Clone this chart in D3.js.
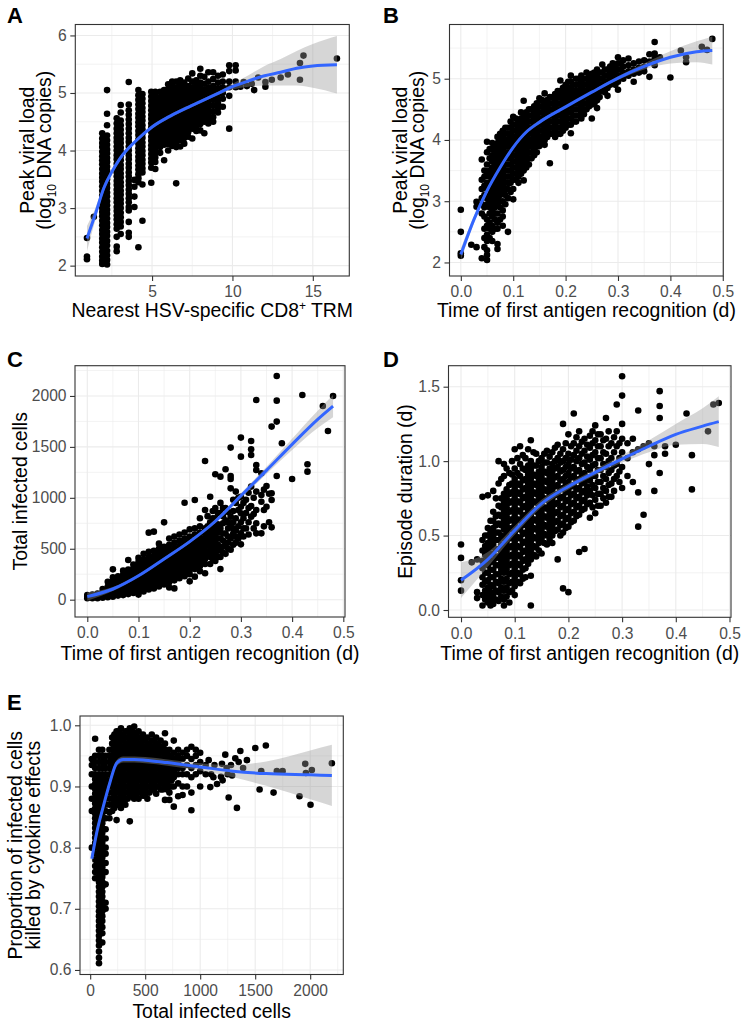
<!DOCTYPE html>
<html><head><meta charset="utf-8">
<script src="https://cdn.jsdelivr.net/npm/d3@7"></script>
<style>
body{margin:0;background:#fff;}
svg text{font-family:"Liberation Sans",Arial,Helvetica,sans-serif;}
</style></head><body>
<svg id="chart" width="747" height="1027"></svg>
<script>
// ---------- Panel A: nearest TRM distance vs peak viral load ----------
// each entry: [x, y1, y2, ...]
const aCols = [
[0.95,2.48,2.16,2.11],[1.38,2.85],
[1.9,4.3,4.21,4.13,4.06,3.98,3.9,3.83,3.76,3.68,3.6,3.53,3.46,3.38,3.3,3.22,3.15,3.08,3.0,2.93,2.86,2.78,2.7,2.62,2.55,2.47,2.4,2.32,2.24,2.16,2.09,2.03],
[2.2,5.05,4.64,4.44,4.26,4.18,4.1,4.02,3.95,3.87,3.8,3.72,3.65,3.57,3.5,3.42,3.35,3.27,3.2,3.12,3.05,2.97,2.9,2.82,2.74,2.67,2.59,2.52,2.43,2.35,2.26,2.18,2.1,2.02],
[2.8,4.56,4.47,4.38,4.3,4.22,4.15,4.07,4.0,3.92,3.85,3.77,3.7,3.62,3.55,3.47,3.4,3.32,3.25,3.17,3.1,3.02,2.95,2.87,2.8,2.72,2.64,2.5,2.33,2.25],
[3.05,4.79,4.66,4.52,4.44,4.36,4.28,4.2,4.13,4.05,3.98,3.9,3.83,3.75,3.68,3.6,3.53,3.45,3.38,3.3,3.23,3.15,3.08,3.0,2.92,2.84,2.76,2.68,2.55],
[3.55,5.19,4.8,4.7,4.62,4.54,4.46,4.38,4.3,4.22,4.15,4.07,4.0,3.92,3.85,3.77,3.7,3.62,3.55,3.47,3.4,3.32,3.25,3.17,3.1,3.02,2.96,2.76,2.57,2.5],
[3.9,3.49,3.37,3.2,3.02],
[4.15,5.05,4.96,4.88,4.8,4.72,4.64,4.57,4.49,4.42,4.34,4.27,4.19,4.12,4.04,3.97,3.89,3.82,3.74,3.67,3.59,3.52,3.45,2.32],
[4.4,4.98,4.9,4.82,4.74,4.67,4.59,4.52,4.44,4.37,4.29,4.22,4.14,4.07,3.99,3.92,3.84,3.77,3.69,3.62,3.41,2.78],
[4.95,5.02,4.94,4.86,4.78,4.7,4.62,4.55,4.47,4.4,4.32,4.24,4.17,4.09,4.02,3.94,3.86,3.79,3.7,3.44],
[5.2,5.02,4.95,4.87,4.79,4.71,4.63,4.56,4.48,4.41,4.33,4.26,4.18,4.11,4.03,3.96,3.88,3.8,3.68],
[5.5,5.02,4.93,4.85,4.77,4.69,4.61,4.53,4.45,4.38,4.3,4.22,4.14,4.06,3.96],
[5.75,5.05,4.97,4.89,4.81,4.73,4.65,4.57,4.49,4.42,4.34,4.26,4.18,4.1,3.83],
[6.0,5.15,5.07,4.99,4.91,4.83,4.75,4.67,4.59,4.51,4.43,4.35,4.27,4.19,4.11,4.0],
[6.25,5.2,5.12,5.04,4.96,4.88,4.8,4.72,4.64,4.56,4.48,4.4,4.32,4.24,4.16,4.08],
[6.5,5.2,5.1,5.02,4.94,4.86,4.78,4.7,4.62,4.54,4.46,4.38,4.3,4.22,4.14,4.06,3.43],
[6.75,5.22,5.14,5.06,4.98,4.9,4.82,4.74,4.66,4.58,4.5,4.42,4.34,4.26,4.18,4.07],
[7.0,5.18,5.1,5.02,4.94,4.86,4.78,4.7,4.62,4.54,4.46,4.38,4.3,4.22,4.12],
[7.25,5.25,5.12,5.04,4.96,4.88,4.8,4.72,4.64,4.56,4.48,4.4,4.32,4.24],
[7.5,5.34,5.2,5.1,5.02,4.94,4.86,4.78,4.7,4.62,4.54,4.46,4.38,4.21],
[7.75,5.22,5.14,5.06,4.98,4.9,4.82,4.74,4.66,4.58,4.5,4.42,4.34],
[8.0,5.42,5.3,5.18,5.1,5.02,4.94,4.86,4.78,4.7,4.62,4.54,4.46,4.35],
[8.25,5.28,5.16,5.06,4.98,4.9,4.82,4.74,4.66,4.58,4.5,4.3],
[8.5,5.36,5.2,5.1,5.02,4.94,4.86,4.78,4.7,4.62,4.54,4.47],
[8.8,5.36,5.24,5.12,5.04,4.96,4.88,4.78,4.68,4.58,4.5],
[9.1,5.3,5.18,5.08,4.98,4.9,4.82,4.74,4.66],
[9.4,5.32,5.2,5.1,5.0,4.9,4.76],
[9.8,5.48,5.38,5.2,5.1,4.95,4.38],
[10.2,5.48,5.39,5.2,5.1],
[10.5,5.11],[10.7,5.19],[10.9,5.12],[11.2,5.16],[11.35,5.05],[11.6,5.27],[12.05,5.19,5.11],
[12.45,5.23],[13.0,5.27],[13.45,5.32],[14.2,5.52,5.23],[14.42,5.65],[16.5,5.6]
];
const aSmoothX = [0.95,1.5,2,2.5,3,4,5,6,7,8,9,10,11,12,13,14,15,16.5];
const aSmoothY = [2.47,2.92,3.35,3.63,3.86,4.17,4.41,4.58,4.72,4.85,4.98,5.11,5.21,5.3,5.36,5.43,5.47,5.49];
const aSmoothLo = [2.25,2.82,3.29,3.58,3.82,4.14,4.38,4.55,4.69,4.82,4.95,5.06,5.11,5.13,5.13,5.13,5.09,4.99];
const aSmoothHi = [2.69,3.02,3.41,3.68,3.9,4.2,4.44,4.61,4.75,4.88,5.01,5.16,5.31,5.47,5.59,5.73,5.85,5.99];
const aXTicks = [5,10,15], aXMinor = [2.5,7.5,12.5];
const aYTicks = [2,3,4,5,6], aYMinor = [2.5,3.5,4.5,5.5];

// ---------- Panel B: time of first antigen recognition vs peak viral load ----------
const bCols = [
[0.0,2.86,2.5,2.15,2.11],[0.02,2.29],[0.03,2.99,2.91,2.25],
[0.04,3.68,3.35,3.2,3.05,2.95,2.8,2.07],
[0.05,3.97,3.8,3.6,3.45,3.3,3.2,3.05,2.95,2.7,2.6,2.45,2.35,2.2,2.12,2.04],
[0.06,3.95,3.85,3.75,3.65,3.55,3.45,3.35,3.25,3.15,3.05,2.95,2.85,2.75,2.6,2.5,2.35],
[0.07,4.05,3.95,3.85,3.75,3.65,3.55,3.45,3.35,3.25,3.15,3.05,2.95,2.8,2.65,2.55,2.3,2.22],
[0.08,4.15,4.05,3.95,3.85,3.75,3.65,3.55,3.45,3.35,3.25,3.12,3.0,2.85,2.75,2.6],
[0.09,4.2,4.1,4.0,3.9,3.8,3.7,3.6,3.5,3.4,3.3,3.2,3.05,2.5],
[0.10,4.38,4.25,4.15,4.05,3.95,3.85,3.75,3.65,3.55,3.45,3.35,3.2,3.03],
[0.11,4.3,4.2,4.1,4.0,3.9,3.8,3.7,3.6,3.5,3.4,3.3],
[0.12,4.64,4.4,4.3,4.2,4.1,4.0,3.9,3.8,3.7,3.6,3.5,3.34],
[0.13,4.5,4.4,4.3,4.2,4.1,4.0,3.9,3.8,3.7,3.6],
[0.14,4.55,4.45,4.35,4.25,4.15,4.05,3.95,3.85,3.75],
[0.15,4.68,4.55,4.45,4.35,4.25,4.15,4.05,3.95,3.9],
[0.16,4.76,4.6,4.5,4.4,4.3,4.2,4.1,4.0,3.92],
[0.17,4.7,4.6,4.5,4.4,4.3,4.2,4.1,3.62],
[0.18,4.75,4.65,4.55,4.45,4.35,4.25,4.15,4.05],
[0.19,4.97,4.8,4.7,4.6,4.5,4.4,4.3,4.2,4.1],
[0.20,4.9,4.8,4.7,4.6,4.5,4.4,4.3,4.2,3.89],
[0.21,5.05,4.95,4.85,4.75,4.65,4.55,4.45,4.35,4.25,4.11],
[0.22,5.0,4.9,4.8,4.7,4.6,4.5,4.4,4.3],
[0.23,5.05,4.95,4.85,4.75,4.65,4.55,4.45,4.35],
[0.24,5.1,5.0,4.9,4.8,4.7,4.6,4.5],
[0.25,5.08,4.98,4.88,4.78,4.68,4.58,4.35],
[0.26,5.15,5.05,4.95,4.85,4.75,4.65,4.52],
[0.27,5.23,5.1,5.0,4.9,4.8],
[0.28,5.15,5.05,4.95,4.85,4.72],
[0.29,5.25,5.15,5.05,4.98],
[0.30,5.35,5.25,5.15,5.05,4.95,4.82],
[0.31,5.3,5.2,5.1,5.0],
[0.32,5.33,5.22,5.12,5.05],
[0.33,5.25,5.15,5.08,4.95],
[0.34,5.28,5.18,5.1],
[0.35,5.3,5.2,5.12],
[0.36,5.4,5.28,5.03],
[0.37,5.6,5.41,5.33,5.22],
[0.38,5.35],[0.40,5.02],[0.42,5.46],[0.43,5.35,5.27],[0.46,5.52],[0.47,5.47],[0.48,5.65],
[0.045,3.5,3.4,3.25,3.1,2.9,2.75,2.55,2.4,2.25],
[0.055,3.85,3.7,3.5,3.4,3.3,3.2,3.1,3.0,2.9,2.8,2.65,2.55,2.4],
[0.065,3.9,3.8,3.7,3.6,3.5,3.4,3.3,3.2,3.1,3.0,2.9,2.8,2.7,2.55],
[0.075,4.1,4.0,3.9,3.8,3.7,3.6,3.5,3.4,3.3,3.2,3.1,3.0,2.9,2.7],
[0.085,4.2,4.1,4.0,3.9,3.8,3.7,3.6,3.5,3.4,3.3,3.2,3.1,2.95],
[0.095,4.3,4.2,4.1,4.0,3.9,3.8,3.7,3.6,3.5,3.4,3.3,3.15],
[0.105,4.35,4.25,4.15,4.05,3.95,3.85,3.75,3.65,3.55,3.45,3.35],
[0.115,4.45,4.35,4.25,4.15,4.05,3.95,3.85,3.75,3.65,3.55,3.45],
[0.125,4.45,4.35,4.25,4.15,4.05,3.95,3.85,3.75,3.65,3.55],
[0.135,4.5,4.4,4.3,4.2,4.1,4.0,3.9,3.8,3.7],
[0.145,4.6,4.5,4.4,4.3,4.2,4.1,4.0,3.9,3.8],
[0.155,4.65,4.55,4.45,4.35,4.25,4.15,4.05,3.95],
[0.165,4.65,4.55,4.45,4.35,4.25,4.15,4.05],
[0.175,4.7,4.6,4.5,4.4,4.3,4.2,4.1],
[0.185,4.8,4.7,4.6,4.5,4.4,4.3,4.2,4.1],
[0.195,4.85,4.75,4.65,4.55,4.45,4.35,4.25,4.15],
[0.205,4.95,4.85,4.75,4.65,4.55,4.45,4.35,4.25],
[0.215,4.9,4.8,4.7,4.6,4.5,4.4,4.3],
[0.225,5.0,4.9,4.8,4.7,4.6,4.5,4.4],
[0.235,5.0,4.9,4.8,4.7,4.6,4.5,4.42],
[0.245,5.05,4.95,4.85,4.75,4.65,4.55],
[0.255,5.1,5.0,4.9,4.8,4.7,4.6],
[0.265,5.1,5.0,4.9,4.8,4.7],
[0.275,5.15,5.05,4.95,4.85,4.78],
[0.285,5.2,5.1,5.0,4.9],
[0.295,5.2,5.1,5.0,4.9],
[0.305,5.25,5.15,5.05]
];
const bSmoothX = [0,0.025,0.05,0.075,0.1,0.125,0.15,0.2,0.25,0.3,0.35,0.4,0.45,0.48];
const bSmoothY = [2.13,2.7,3.17,3.55,3.88,4.13,4.29,4.54,4.78,5.01,5.2,5.35,5.44,5.46];
const bSmoothLo = [2.03,2.64,3.13,3.52,3.85,4.1,4.26,4.52,4.76,4.98,5.15,5.25,5.27,5.23];
const bSmoothHi = [2.23,2.76,3.21,3.58,3.91,4.16,4.32,4.56,4.8,5.04,5.25,5.45,5.61,5.69];
const timeTicks = [0,0.1,0.2,0.3,0.4,0.5], timeMinor = [0.05,0.15,0.25,0.35,0.45];
const bYTicks = [2,3,4,5], bYMinor = [2.5,3.5,4.5,5.5];

// ---------- Panel C: time of first antigen recognition vs total infected cells ----------
const cCols = [
[0.0,15,30,45],[0.01,15,30,50],[0.02,15,35,60],[0.03,20,45,75,105],
[0.04,25,55,90,130,175],[0.05,30,65,100,140,180,220,298],
[0.06,40,75,110,150,190,230],[0.07,45,85,125,165,205,245,285],
[0.08,55,95,135,175,215,255,295,390],[0.09,65,105,145,185,225,265,305,345],
[0.10,50,90,130,170,210,250,290,330,370,410],
[0.11,80,120,160,200,240,280,320,360,400,450],
[0.12,100,140,180,220,260,300,340,380,420,470,658],
[0.13,110,150,190,230,270,310,350,390,430,480,668],
[0.14,130,170,210,250,290,330,370,410,450,500,550],
[0.15,150,190,230,270,310,350,390,430,470,520,759],
[0.16,120,170,210,250,290,330,370,410,450,490,540,600],
[0.17,111,190,230,270,310,350,390,430,470,510,560,620],
[0.18,210,250,290,330,370,410,450,490,530,580,640],
[0.19,230,270,310,350,390,430,470,510,550,600,660,952],
[0.20,180,250,290,330,370,410,450,490,530,570,620,690],
[0.21,226,300,340,380,420,460,500,540,580,640,700,979],
[0.22,280,330,370,410,450,490,530,570,610,660,720,800],
[0.23,260,350,400,440,480,520,560,600,650,700,880,1362],
[0.24,350,420,470,520,570,620,680,760,1011],
[0.25,380,450,510,560,620,700,800,900,1231],
[0.26,300,420,500,600,700,850,950,1208],
[0.27,450,550,650,780,900,1280],
[0.28,490,600,717,815,1093,1185,1214,1493],
[0.29,560,619,680,800,950,1061],
[0.30,543,651,760,848,913,1011,1404,1591],
[0.31,700,850,980],
[0.32,815,920,1110,1421,1476,1558],
[0.33,651,750,880,1061,1273,1322,1961],
[0.34,651,962,1028,1241],[0.35,913,1116],[0.36,710,979,1044,1699],
[0.37,1214,1748,1954,2196],[0.38,1535],[0.40,1185],[0.42,2010],
[0.43,1257,1329],[0.46,1902],[0.47,1656],[0.48,2000],
[0.235,540,590,640,720,820],
[0.245,400,450,500,550,600,650,720,800,870],
[0.255,420,480,540,600,660,740,850],
[0.265,460,520,580,650,750,820,900],
[0.275,500,560,620,700,760,860],
[0.285,540,650,700,760,870,980],
[0.295,600,720,880,1000],
[0.305,620,700,800,950],
[0.315,640,760,900,1050],
[0.325,700,840,1000],
[0.345,720,880,1080],
[0.355,760,1040]
];
const cSmoothX = [0,0.05,0.1,0.15,0.2,0.25,0.3,0.35,0.4,0.45,0.48];
const cSmoothY = [30,105,235,400,570,770,1020,1270,1525,1770,1900];
const cSmoothLo = [-10,85,220,385,555,750,995,1235,1470,1685,1790];
const cSmoothHi = [70,125,250,415,585,790,1045,1305,1580,1855,2010];
const cYTicks = [0,500,1000,1500,2000], cYMinor = [250,750,1250,1750,2250];

// ---------- Panel D: time of first antigen recognition vs episode duration ----------
const dCols = [
[0.0,0.44,0.35,0.2,0.13],[0.02,0.32],[0.03,0.34,0.12,0.08],
[0.04,0.76,0.47,0.4,0.33,0.28,0.22,0.17,0.1,0.03],
[0.05,0.77,0.55,0.5,0.45,0.4,0.35,0.3,0.25,0.2,0.15,0.1,0.05],
[0.06,0.8,0.66,0.6,0.55,0.5,0.44,0.38,0.33,0.27,0.22,0.16,0.1,0.04],
[0.07,1.0,0.85,0.7,0.64,0.58,0.52,0.47,0.41,0.36,0.3,0.24,0.18,0.12,0.06],
[0.08,0.98,0.9,0.78,0.72,0.66,0.6,0.54,0.48,0.42,0.36,0.3,0.25,0.19,0.13,0.07,0.03],
[0.09,0.92,0.84,0.78,0.72,0.66,0.6,0.54,0.48,0.42,0.36,0.3,0.24,0.18,0.12,0.05],
[0.10,1.08,0.95,0.88,0.82,0.76,0.7,0.64,0.58,0.52,0.46,0.4,0.34,0.28,0.22,0.16,0.1],
[0.11,1.1,0.98,0.9,0.84,0.78,0.72,0.66,0.6,0.54,0.48,0.42,0.36,0.3,0.24,0.18],
[0.12,1.02,0.94,0.88,0.82,0.76,0.7,0.64,0.58,0.52,0.46,0.4,0.34,0.28,0.22],
[0.13,1.14,1.0,0.94,0.88,0.82,0.76,0.7,0.64,0.58,0.52,0.46,0.4,0.34,0.23,0.03],
[0.14,1.05,0.97,0.9,0.84,0.78,0.72,0.66,0.6,0.54,0.48,0.42,0.36],
[0.15,1.02,0.96,0.9,0.84,0.78,0.72,0.66,0.6,0.54,0.48,0.38],
[0.16,1.07,0.99,0.92,0.86,0.8,0.74,0.68,0.62,0.56,0.5,0.44],
[0.17,1.06,0.98,0.92,0.86,0.8,0.74,0.68,0.62,0.56,0.5,0.45],
[0.18,1.11,1.02,0.96,0.9,0.84,0.78,0.72,0.66,0.6,0.54,0.34],
[0.19,1.25,1.08,1.0,0.94,0.88,0.82,0.76,0.7,0.64,0.58,0.52,0.145],
[0.20,1.18,1.05,0.98,0.92,0.86,0.8,0.74,0.68,0.62,0.56,0.12],
[0.21,1.32,1.12,1.04,0.96,0.9,0.84,0.78,0.72,0.66,0.6],
[0.22,1.2,1.1,1.02,0.94,0.88,0.82,0.76,0.7,0.64,0.39],
[0.23,1.15,1.07,0.99,0.92,0.86,0.8,0.74,0.68,0.41],
[0.24,1.17,1.09,1.01,0.94,0.87,0.8,0.72,0.62],
[0.25,1.24,1.14,1.06,0.98,0.9,0.82,0.74,0.65],
[0.26,1.18,1.1,1.02,0.94,0.86,0.78,0.7],
[0.27,1.29,1.15,1.05,0.96,0.88,0.8,0.72],
[0.28,1.12,1.02,0.94,0.85,0.76],
[0.29,1.38,1.2,1.1,0.98,0.9],
[0.30,1.57,1.44,1.25,1.15,1.06,0.96,0.82],
[0.31,1.12,1.02,0.9],[0.32,1.15,1.06,0.86],[0.33,1.34,1.08,0.79,0.56],
[0.34,1.1,0.64],[0.35,1.12,0.98],[0.36,1.1,1.04,0.8],[0.37,1.47,1.37,1.29,0.92],
[0.38,1.1,1.05],[0.40,1.11],[0.42,1.32],[0.43,1.04,0.81],[0.46,1.2],[0.47,1.38],[0.48,1.39],
[0.045,0.5,0.43,0.37,0.31,0.25,0.19,0.13,0.07],
[0.055,0.6,0.52,0.47,0.42,0.37,0.32,0.27,0.22,0.17,0.12,0.07,0.03],
[0.065,0.75,0.63,0.57,0.52,0.47,0.41,0.35,0.3,0.24,0.19,0.13,0.07],
[0.075,0.88,0.75,0.69,0.63,0.57,0.5,0.44,0.39,0.33,0.27,0.21,0.15,0.09],
[0.085,0.95,0.81,0.75,0.69,0.63,0.57,0.51,0.45,0.39,0.33,0.27,0.21,0.15,0.09],
[0.095,1.0,0.91,0.85,0.79,0.73,0.67,0.61,0.55,0.49,0.43,0.37,0.31,0.25,0.19,0.13],
[0.105,1.02,0.92,0.85,0.79,0.73,0.67,0.61,0.55,0.49,0.43,0.37,0.31,0.25,0.19],
[0.115,1.04,0.95,0.87,0.81,0.75,0.69,0.63,0.57,0.51,0.45,0.39,0.33,0.27,0.21],
[0.125,1.08,0.97,0.91,0.85,0.79,0.73,0.67,0.61,0.55,0.49,0.43,0.37,0.31],
[0.135,1.06,0.97,0.91,0.85,0.79,0.73,0.67,0.61,0.55,0.49,0.43,0.37],
[0.145,1.0,0.93,0.87,0.81,0.75,0.69,0.63,0.57,0.51,0.45,0.4],
[0.155,1.05,0.99,0.93,0.87,0.81,0.75,0.69,0.63,0.57,0.51,0.45],
[0.165,1.03,0.95,0.89,0.83,0.77,0.71,0.65,0.59,0.53,0.47],
[0.175,1.09,1.0,0.95,0.89,0.83,0.77,0.71,0.65,0.59,0.53],
[0.185,1.05,0.99,0.93,0.87,0.81,0.75,0.69,0.63,0.57,0.5],
[0.195,1.12,1.02,0.96,0.9,0.85,0.79,0.73,0.67,0.61,0.55],
[0.205,1.1,1.01,0.95,0.89,0.83,0.77,0.71,0.65,0.59],
[0.215,1.16,1.07,1.0,0.93,0.87,0.81,0.75,0.69,0.63],
[0.225,1.13,1.05,0.98,0.91,0.85,0.79,0.73,0.67],
[0.235,1.11,1.03,0.96,0.89,0.83,0.77,0.71],
[0.245,1.2,1.12,1.04,0.97,0.9,0.84,0.77,0.69],
[0.255,1.18,1.1,1.02,0.94,0.86,0.78,0.7],
[0.265,1.14,1.06,0.98,0.9,0.82,0.75],
[0.275,1.2,1.1,1.0,0.92,0.84,0.76],
[0.285,1.16,1.06,0.97,0.88,0.8],
[0.295,1.12,1.02,0.93,0.86]
];
const dSmoothX = [0,0.05,0.1,0.15,0.2,0.25,0.3,0.35,0.4,0.45,0.48];
const dSmoothY = [0.2,0.34,0.535,0.715,0.83,0.925,1.015,1.1,1.18,1.235,1.265];
const dSmoothLo = [0.08,0.29,0.505,0.69,0.81,0.905,0.99,1.06,1.11,1.115,1.095];
const dSmoothHi = [0.32,0.39,0.565,0.74,0.85,0.945,1.04,1.14,1.25,1.355,1.435];
const dYTicks = [0,0.5,1.0,1.5], dYMinor = [0.25,0.75,1.25];

// ---------- Panel E: total infected cells vs proportion killed by cytokine ----------
const eCols = [
[15,0.945,0.935,0.92,0.9,0.88,0.86,0.8],
[45,0.978,0.95,0.94,0.93,0.92,0.912,0.904,0.896,0.888,0.88,0.872,0.864,0.856,0.848,0.84,0.832,0.824,0.816,0.808,0.8,0.79,0.78,0.77,0.76,0.75],
[80,0.96,0.95,0.94,0.93,0.92,0.912,0.904,0.896,0.888,0.88,0.872,0.864,0.856,0.848,0.84,0.832,0.824,0.816,0.808,0.8,0.792,0.784,0.776,0.768,0.76,0.752,0.744,0.736,0.728,0.72,0.712,0.704,0.696,0.688,0.68,0.672,0.664,0.656,0.648,0.64,0.63,0.62,0.611],
[110,0.96,0.95,0.94,0.93,0.92,0.912,0.904,0.896,0.888,0.88,0.872,0.864,0.856,0.848,0.84,0.832,0.824,0.816,0.808,0.8,0.792,0.784,0.776,0.768,0.76,0.752,0.744,0.736,0.728,0.72,0.712,0.704,0.696,0.688,0.68,0.67,0.66,0.645],
[140,0.95,0.94,0.93,0.92,0.912,0.904,0.896,0.888,0.88,0.87,0.86,0.848,0.83,0.815,0.8,0.79,0.775,0.76,0.74,0.71,0.7],
[175,0.96,0.95,0.94,0.93,0.92,0.91,0.9,0.89,0.88,0.87,0.858,0.848],
[200,0.98,0.97,0.96,0.95,0.94,0.93,0.92,0.91,0.9,0.89,0.88,0.87,0.86],
[240,0.99,0.98,0.97,0.96,0.95,0.94,0.93,0.92,0.91,0.9,0.89,0.88,0.87,0.845],
[280,0.995,0.985,0.975,0.965,0.955,0.945,0.935,0.925,0.915,0.905,0.895,0.885,0.875,0.865],
[320,0.99,0.98,0.97,0.96,0.95,0.94,0.93,0.92,0.91,0.9,0.89,0.88,0.87],
[360,0.995,0.985,0.975,0.965,0.955,0.945,0.935,0.925,0.915,0.905,0.895,0.885,0.843],
[400,0.998,0.988,0.978,0.968,0.958,0.948,0.938,0.928,0.918,0.908,0.898,0.888,0.88],
[440,0.99,0.98,0.97,0.96,0.95,0.94,0.93,0.92,0.91,0.9,0.89,0.88],
[480,0.985,0.975,0.965,0.955,0.945,0.935,0.925,0.915,0.905,0.895,0.885],
[520,0.98,0.97,0.96,0.95,0.94,0.93,0.92,0.91,0.9,0.89,0.88],
[560,0.985,0.975,0.965,0.955,0.945,0.935,0.925,0.915,0.905,0.895],
[600,0.98,0.97,0.96,0.95,0.94,0.93,0.92,0.91,0.9,0.888],
[640,0.975,0.965,0.955,0.945,0.935,0.925,0.915,0.905,0.895],
[680,0.987,0.97,0.96,0.95,0.94,0.93,0.92,0.91,0.9,0.878],
[720,0.96,0.95,0.94,0.93,0.92,0.91,0.9,0.89,0.878],
[760,0.975,0.955,0.945,0.935,0.925,0.915,0.9,0.867],
[800,0.96,0.95,0.94,0.93,0.92,0.905,0.884],
[840,0.955,0.945,0.93,0.92,0.9,0.886],
[880,0.96,0.95,0.935,0.92,0.9],
[920,0.965,0.945,0.93,0.915,0.89,0.861],
[960,0.96,0.95,0.935,0.92],[1000,0.955,0.94,0.925,0.9],
[1050,0.935,0.92],[1077,0.943],[1092,0.899],[1100,0.92],[1120,0.915],[1130,0.935],
[1153,0.904],[1189,0.916],[1198,0.937],[1204,0.91],[1228,0.952],[1240,0.93],[1250,0.92],
[1259,0.882],[1280,0.935],[1290,0.918],[1319,0.946],[1334,0.865],[1350,0.94],[1365,0.958],
[1390,0.93],[1425,0.943],[1501,0.963],[1540,0.895],[1555,0.925],[1597,0.967],[1667,0.89],
[1697,0.925],[1749,0.925],[1903,0.884],[1955,0.937],[1961,0.922],[2003,0.87],[2015,0.927],[2197,0.938],
[220,0.985,0.975,0.965,0.955,0.945,0.935,0.925,0.915,0.905,0.895,0.885,0.875,0.865],
[260,0.99,0.98,0.97,0.96,0.95,0.94,0.93,0.92,0.91,0.9,0.89,0.88,0.87],
[300,0.985,0.975,0.965,0.955,0.945,0.935,0.925,0.915,0.905,0.895,0.885,0.875],
[340,0.99,0.98,0.97,0.96,0.95,0.94,0.93,0.92,0.91,0.9,0.89,0.88],
[380,0.993,0.983,0.973,0.963,0.953,0.943,0.933,0.923,0.913,0.903,0.893,0.883],
[420,0.985,0.975,0.965,0.955,0.945,0.935,0.925,0.915,0.905,0.895,0.885],
[460,0.98,0.97,0.96,0.95,0.94,0.93,0.92,0.91,0.9,0.89],
[500,0.975,0.965,0.955,0.945,0.935,0.925,0.915,0.905,0.895,0.885],
[540,0.97,0.96,0.95,0.94,0.93,0.92,0.91,0.9,0.89],
[580,0.975,0.965,0.955,0.945,0.935,0.925,0.915,0.905,0.895],
[620,0.97,0.96,0.95,0.94,0.93,0.92,0.91,0.9],
[660,0.965,0.955,0.945,0.935,0.925,0.915,0.905,0.895],
[700,0.955,0.945,0.935,0.925,0.915,0.905,0.895],
[740,0.95,0.94,0.93,0.92,0.91,0.9]
];
const eSmoothX = [15,60,120,180,240,300,400,500,700,1000,1300,1600,2000,2197];
const eSmoothY = [0.782,0.825,0.868,0.907,0.938,0.944,0.944,0.943,0.939,0.932,0.925,0.921,0.919,0.918];
const eSmoothLo = [0.77,0.817,0.862,0.901,0.933,0.939,0.939,0.938,0.934,0.926,0.915,0.901,0.879,0.868];
const eSmoothHi = [0.794,0.833,0.874,0.913,0.943,0.949,0.949,0.948,0.944,0.938,0.935,0.941,0.959,0.968];
const eXTicks = [0,500,1000,1500,2000], eXMinor = [250,750,1250,1750,2250];
const eYTicks = [0.6,0.7,0.8,0.9,1.0], eYMinor = [0.65,0.75,0.85,0.95];

// ---------- drawing ----------
const svg = d3.select("#chart");
const FONT = '"Liberation Sans",Arial,Helvetica,sans-serif';
function expand(cols){ return cols.flatMap(c => c.slice(1).map(v => [c[0], v])); }

function panel(o){
  const x = d3.scaleLinear().domain(o.xDomain).range([o.l, o.r]);
  const y = d3.scaleLinear().domain(o.yDomain).range([o.b, o.t]);
  const g = svg.append("g");
  const id = "clip" + o.letter;
  svg.append("clipPath").attr("id", id).append("rect")
    .attr("x", o.l).attr("y", o.t).attr("width", o.r - o.l).attr("height", o.b - o.t);
  const pg = g.append("g").attr("clip-path", `url(#${id})`);
  pg.append("rect").attr("x", o.l).attr("y", o.t).attr("width", o.r - o.l).attr("height", o.b - o.t).attr("fill", "#fff");
  const grid = (vals, vert, w) => pg.append("g").selectAll("line").data(vals).join("line")
      .attr("x1", d => vert ? x(d) : o.l).attr("x2", d => vert ? x(d) : o.r)
      .attr("y1", d => vert ? o.t : y(d)).attr("y2", d => vert ? o.b : y(d))
      .attr("stroke", "#ebebeb").attr("stroke-width", w);
  grid(o.xMinor, true, 0.6); grid(o.yMinor, false, 0.6);
  grid(o.xTicks, true, 1.1); grid(o.yTicks, false, 1.1);
  pg.append("g").selectAll("circle").data(expand(o.cols)).join("circle")
    .attr("cx", d => x(d[0])).attr("cy", d => y(d[1])).attr("r", 3.3).attr("fill", "#000");
  const sm = o.sx.map((v, i) => ({x: v, y: o.sy[i], lo: o.slo[i], hi: o.shi[i]}));
  pg.append("path").datum(sm)
    .attr("d", d3.area().x(d => x(d.x)).y0(d => y(d.lo)).y1(d => y(d.hi)).curve(d3.curveMonotoneX))
    .attr("fill", "#999999").attr("fill-opacity", 0.4);
  pg.append("path").datum(sm)
    .attr("d", d3.line().x(d => x(d.x)).y(d => y(d.y)).curve(d3.curveMonotoneX))
    .attr("fill", "none").attr("stroke", "#3366ff").attr("stroke-width", 3);
  g.append("rect").attr("x", o.l).attr("y", o.t).attr("width", o.r - o.l).attr("height", o.b - o.t)
    .attr("fill", "none").attr("stroke", "#333333").attr("stroke-width", 1.1);
  const styleAxis = a => {
    a.select(".domain").remove();
    a.selectAll(".tick line").attr("stroke", "#333333").attr("stroke-width", 1.1);
    a.selectAll(".tick text").attr("fill", "#4d4d4d").attr("font-size", 15.6).attr("font-family", FONT);
  };
  g.append("g").attr("transform", `translate(0,${o.b})`)
    .call(d3.axisBottom(x).tickValues(o.xTicks).tickFormat(o.xFmt).tickSize(5).tickPadding(5.4))
    .call(styleAxis);
  g.append("g").attr("transform", `translate(${o.l},0)`)
    .call(d3.axisLeft(y).tickValues(o.yTicks).tickFormat(o.yFmt).tickSize(5).tickPadding(3.5))
    .call(styleAxis);
  svg.append("text").attr("x", o.lx).attr("y", o.ly).text(o.letter)
    .attr("font-size", 22).attr("font-weight", "bold").attr("fill", "#000").attr("font-family", FONT);
  const xt = svg.append("text").attr("x", (o.l + o.r) / 2).attr("y", o.b + o.xtOff)
    .attr("text-anchor", "middle").attr("font-size", 19.4).attr("fill", "#000").attr("font-family", FONT);
  o.xTitle(xt);
  const cy = (o.t + o.b) / 2;
  o.yTitle.forEach(ln => {
    const t = svg.append("text").attr("transform", `translate(${ln.x},${cy}) rotate(-90)`)
      .attr("text-anchor", "middle").attr("font-size", 19.4).attr("fill", "#000").attr("font-family", FONT);
    ln.fill(t);
  });
}

const plain = s => t => t.text(s);
const timeTitle = plain("Time of first antigen recognition (d)");
const f1 = d3.format(".1f");
const logTitle = t => { t.append("tspan").text("(log");
                        t.append("tspan").text("10").attr("font-size", 12).attr("dy", 5);
                        t.append("tspan").text(" DNA copies)").attr("dy", -5); };

panel({letter: "A", lx: 7, ly: 23.3, l: 75.3, r: 349.3, t: 24.5, b: 276,
  xDomain: [0.224, 17.27], yDomain: [1.82, 6.19],
  xTicks: aXTicks, xMinor: aXMinor, yTicks: aYTicks, yMinor: aYMinor,
  xFmt: d3.format("d"), yFmt: d3.format("d"),
  cols: aCols, sx: aSmoothX, sy: aSmoothY, slo: aSmoothLo, shi: aSmoothHi, xtOff: 41,
  xTitle: t => { t.append("tspan").text("Nearest HSV-specific CD8");
                 t.append("tspan").text("+").attr("font-size", 12).attr("dy", -7);
                 t.append("tspan").text(" TRM").attr("dy", 7); },
  yTitle: [{x: 33.5, fill: plain("Peak viral load")}, {x: 50.5, fill: logTitle}]
});

panel({letter: "B", lx: 383, ly: 23.3, l: 449.5, r: 723.3, t: 24.5, b: 276,
  xDomain: [-0.0216, 0.501], yDomain: [1.779, 5.885],
  xTicks: timeTicks, xMinor: timeMinor, yTicks: bYTicks, yMinor: bYMinor,
  xFmt: f1, yFmt: d3.format("d"),
  cols: bCols, sx: bSmoothX, sy: bSmoothY, slo: bSmoothLo, shi: bSmoothHi, xtOff: 41,
  xTitle: timeTitle,
  yTitle: [{x: 406.5, fill: plain("Peak viral load")}, {x: 423.5, fill: logTitle}]
});

panel({letter: "C", lx: 7, ly: 366.5, l: 75, r: 345, t: 365.7, b: 617,
  xDomain: [-0.024, 0.5033], yDomain: [-170, 2297],
  xTicks: timeTicks, xMinor: timeMinor, yTicks: cYTicks, yMinor: cYMinor,
  xFmt: f1, yFmt: d3.format("d"),
  cols: cCols, sx: cSmoothX, sy: cSmoothY, slo: cSmoothLo, shi: cSmoothHi, xtOff: 43,
  xTitle: timeTitle,
  yTitle: [{x: 26.5, fill: plain("Total infected cells")}]
});

panel({letter: "D", lx: 383, ly: 366.5, l: 448.5, r: 731, t: 365.7, b: 617.3,
  xDomain: [-0.0233, 0.5028], yDomain: [-0.049, 1.641],
  xTicks: timeTicks, xMinor: timeMinor, yTicks: dYTicks, yMinor: dYMinor,
  xFmt: f1, yFmt: f1,
  cols: dCols, sx: dSmoothX, sy: dSmoothY, slo: dSmoothLo, shi: dSmoothHi, xtOff: 43,
  xTitle: timeTitle,
  yTitle: [{x: 411.5, fill: plain("Episode duration (d)")}]
});

panel({letter: "E", lx: 7, ly: 710, l: 80, r: 343.3, t: 716, b: 974.5,
  xDomain: [-92.6, 2301], yDomain: [0.5926, 1.0152],
  xTicks: eXTicks, xMinor: eXMinor, yTicks: eYTicks, yMinor: eYMinor,
  xFmt: d3.format("d"), yFmt: f1,
  cols: eCols, sx: eSmoothX, sy: eSmoothY, slo: eSmoothLo, shi: eSmoothHi, xtOff: 43.5,
  xTitle: plain("Total infected cells"),
  yTitle: [{x: 22, fill: plain("Proportion of infected cells")}, {x: 40, fill: plain("killed by cytokine effects")}]
});
</script>
</body></html>
